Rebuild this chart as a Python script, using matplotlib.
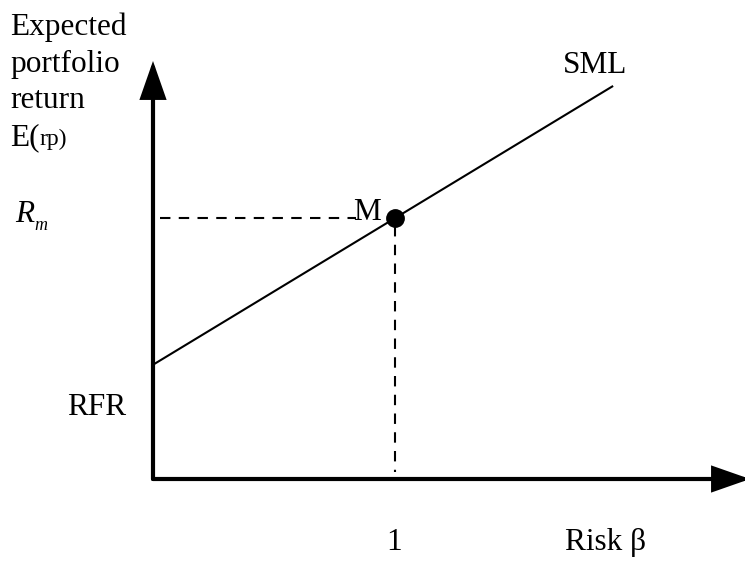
# coding: utf-8
'''
Security Market Line (SML): expected portfolio return vs. beta risk.
'''

import matplotlib.pyplot as plt

# Values of the diagram (return in %, risk as beta)
rfr = 3.9          # risk-free rate
rm = 8.9           # expected market return
beta_m = 1.0       # market beta
sml_beta = [0.0, 1.9]
sml_ret = [rfr + (rm - rfr) * b for b in sml_beta]

beta_max = 2.47
ret_max = 14.27

W, H = 745, 572
FONT = 'Liberation Serif'
FS = 22.5


def fx(px):
    return px / W


def fy(py):
    return 1 - py / H


if __name__ == '__main__':
    fig = plt.figure(figsize=(W / 100, H / 100), dpi=100)
    ax = fig.add_axes([fx(153), fy(479), fx(745 - 153 + 5), (479 - 61) / H])
    ax.set_xlim(0, beta_max)
    ax.set_ylim(0, ret_max)
    ax.axis('off')

    # Оси со стрелками
    arrow = dict(arrowstyle='-|>,head_length=1.0,head_width=0.35',
                 mutation_scale=22, lw=3.0, color='black',
                 shrinkA=0, shrinkB=0, joinstyle='miter')
    ax.annotate('', xy=(beta_max, 0), xytext=(0, 0), arrowprops=arrow,
                annotation_clip=False)
    ax.annotate('', xy=(0, ret_max), xytext=(0, 0), arrowprops=arrow,
                annotation_clip=False)

    # SML
    ax.plot(sml_beta, sml_ret, color='black', lw=1.5, clip_on=False)

    # Пунктир к точке M
    ax.plot([0.03, beta_m - 0.16], [rm, rm], color='black', lw=1.5,
            dashes=(5, 4))
    ax.plot([beta_m, beta_m], [rm - 0.25, 0.25], color='black', lw=1.5,
            dashes=(5, 4))
    ax.plot([beta_m], [rm], 'o', color='black', markersize=12.5)

    txt = dict(family=FONT, fontsize=FS, va='baseline')
    fig.text(fx(10), fy(35), 'Expected', **txt)
    fig.text(fx(10), fy(72), 'portfolio', **txt)
    fig.text(fx(10), fy(108), 'return', **txt)
    fig.text(fx(10), fy(145), 'E(', **txt)
    fig.text(fx(39), fy(145), 'rp)', family=FONT, fontsize=17, va='baseline')

    fig.text(fx(15), fy(222), 'R', family=FONT, fontsize=FS, style='italic',
             va='baseline')
    fig.text(fx(34), fy(230), 'm', family=FONT, fontsize=13, style='italic',
             va='baseline')

    fig.text(fx(381), fy(220), 'M', ha='right', **txt)
    fig.text(fx(563), fy(73), 'SML', **txt)
    fig.text(fx(67), fy(415), 'RFR', **txt)
    fig.text(fx(394), fy(550), '1', ha='center', **txt)
    fig.text(fx(565), fy(550), 'Risk \u03b2', **txt)

    fig.savefig('out.png', dpi=100)
